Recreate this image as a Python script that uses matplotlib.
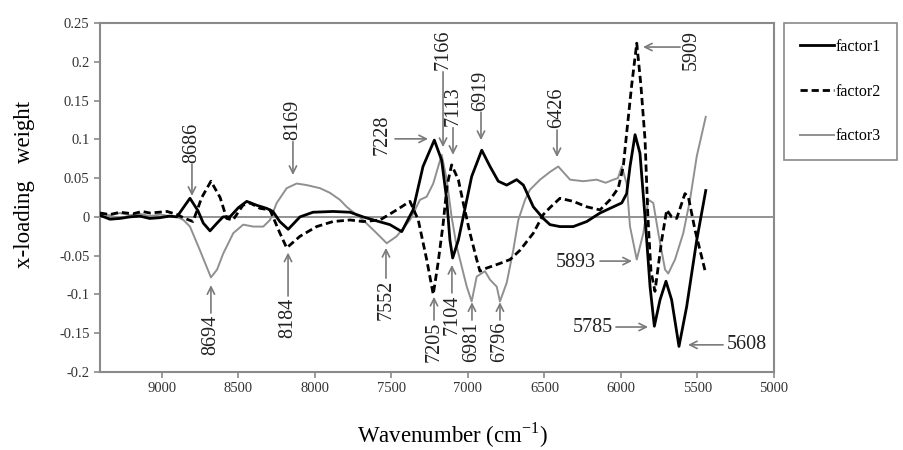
import matplotlib
matplotlib.use("Agg")
import matplotlib.pyplot as plt
from matplotlib.ticker import FuncFormatter
from matplotlib.lines import Line2D

plt.rcParams['font.family'] = ['Liberation Serif', 'DejaVu Serif']
plt.rcParams['axes.unicode_minus'] = False

# factor loadings (wavenumber, x-loading weight)
factor1_wn = [9405, 9340, 9275, 9210, 9144, 9080, 9013, 8950, 8902, 8860,
              8817, 8765, 8730, 8686, 8640, 8601, 8556, 8500, 8446, 8381,
              8316, 8275, 8230, 8175, 8098, 8013, 7882, 7771, 7686, 7600,
              7510, 7433, 7359, 7294, 7220, 7172, 7139, 7118, 7100, 7063,
              7031, 6976, 6910, 6856, 6802, 6747, 6682, 6638, 6573, 6508,
              6464, 6399, 6312, 6224, 6137, 6050, 5995, 5963, 5941, 5908,
              5876, 5843, 5810, 5782, 5745, 5706, 5669, 5621, 5571, 5505,
              5446]
factor1 = [0.002, -0.003, -0.002, 0.0, 0.001, -0.002, -0.001, 0.001, 0.0, 0.012,
           0.024, 0.008, -0.008, -0.018, -0.008, 0.0, 0.0, 0.012, 0.020, 0.015,
           0.011, 0.007, -0.006, -0.016, 0.0, 0.006, 0.007, 0.006, 0.0, -0.005,
           -0.010, -0.019, 0.009, 0.065, 0.099, 0.073, 0.022, -0.030, -0.053, -0.030,
           0.0, 0.052, 0.086, 0.065, 0.046, 0.041, 0.048, 0.041, 0.013, -0.002,
           -0.010, -0.0125, -0.0125, -0.006, 0.005, 0.013, 0.018, 0.030, 0.065, 0.106,
           0.082, 0.0, -0.090, -0.141, -0.107, -0.083, -0.107, -0.167, -0.116, -0.030,
           0.034]

factor2_wn = [9405, 9340, 9275, 9190, 9130, 9078, 9020, 8967, 8902, 8850,
              8797, 8740, 8680, 8620, 8577, 8536, 8471, 8425, 8359, 8294,
              8229, 8185, 8098, 7989, 7882, 7771, 7686, 7575, 7466, 7379,
              7325, 7270, 7227, 7196, 7163, 7137, 7107, 7063, 7031, 6987,
              6943, 6922, 6878, 6791, 6725, 6660, 6573, 6508, 6464, 6399,
              6312, 6224, 6137, 6072, 6018, 5985, 5963, 5930, 5897, 5870,
              5843, 5824, 5804, 5778, 5734, 5701, 5669, 5636, 5582, 5560,
              5516, 5446]
factor2 = [0.005, 0.003, 0.006, 0.004, 0.007, 0.005, 0.006, 0.007, 0.003, -0.002,
           -0.006, 0.025, 0.046, 0.025, -0.002, -0.004, 0.015, 0.018, 0.011, 0.009,
           -0.021, -0.040, -0.025, -0.0125, -0.006, -0.004, -0.006, -0.004, 0.009, 0.020,
           -0.004, -0.055, -0.100, -0.060, -0.010, 0.040, 0.067, 0.048, 0.018, -0.021,
           -0.055, -0.070, -0.066, -0.060, -0.055, -0.043, -0.021, 0.003, 0.012, 0.024,
           0.020, 0.013, 0.009, 0.022, 0.037, 0.065, 0.108, 0.170, 0.224, 0.170,
           0.100, 0.0, -0.070, -0.096, -0.030, 0.009, 0.0, -0.002, 0.030, 0.026,
           -0.017, -0.073]

factor3_wn = [9405, 9340, 9275, 9210, 9144, 9080, 9013, 8950, 8902, 8860,
              8817, 8752, 8680, 8640, 8599, 8534, 8469, 8403, 8338, 8294,
              8250, 8185, 8120, 8054, 7967, 7902, 7837, 7793, 7686, 7597,
              7531, 7466, 7379, 7314, 7270, 7227, 7172, 7139, 7107, 7074,
              7008, 6976, 6943, 6889, 6856, 6812, 6791, 6747, 6704, 6671,
              6627, 6595, 6529, 6464, 6410, 6333, 6246, 6159, 6100, 6050,
              6020, 5995, 5963, 5941, 5897, 5854, 5821, 5789, 5756, 5712,
              5691, 5647, 5593, 5549, 5505, 5446]
factor3 = [0.004, 0.002, 0.005, 0.002, 0.004, 0.001, 0.003, 0.001, 0.0, -0.004,
           -0.0125, -0.043, -0.078, -0.068, -0.047, -0.021, -0.010, -0.0125, -0.0125, -0.004,
           0.018, 0.037, 0.043, 0.041, 0.037, 0.031, 0.022, 0.013, -0.004, -0.021,
           -0.034, -0.025, -0.004, 0.022, 0.026, 0.043, 0.080, 0.048, 0.0, -0.038,
           -0.090, -0.109, -0.077, -0.070, -0.081, -0.090, -0.109, -0.085, -0.043, -0.004,
           0.022, 0.035, 0.048, 0.058, 0.065, 0.048, 0.046, 0.048, 0.044, 0.048,
           0.050, 0.065, 0.043, -0.0125, -0.055, -0.021, 0.022, 0.018, -0.021, -0.068,
           -0.073, -0.055, -0.021, 0.022, 0.078, 0.129]

# peak labels: text, arrow tip, arrow tail, text anchor, rotation, ha, va
notes = [
    ("8686", (8804, 0.027), (8804, 0.068), (8804, 0.070), 90, 'center', 'bottom'),
    ("8169", (8144, 0.054), (8144, 0.097), (8144, 0.099), 90, 'center', 'bottom'),
    ("7166", (7163, 0.090), (7163, 0.187), (7163, 0.189), 90, 'center', 'bottom'),
    ("7113", (7098, 0.080), (7098, 0.115), (7098, 0.117), 90, 'center', 'bottom'),
    ("6919", (6915, 0.099), (6915, 0.135), (6915, 0.137), 90, 'center', 'bottom'),
    ("6426", (6418, 0.077), (6418, 0.112), (6418, 0.114), 90, 'center', 'bottom'),
    ("8694", (8680, -0.088), (8680, -0.124), (8680, -0.126), 90, 'center', 'top'),
    ("8184", (8176, -0.046), (8176, -0.102), (8176, -0.104), 90, 'center', 'top'),
    ("7552", (7536, -0.040), (7536, -0.079), (7536, -0.081), 90, 'center', 'top'),
    ("7205", (7222, -0.103), (7222, -0.133), (7222, -0.135), 90, 'center', 'top'),
    ("7104", (7105, -0.062), (7105, -0.098), (7105, -0.100), 90, 'center', 'top'),
    ("6981", (6974, -0.110), (6974, -0.133), (6974, -0.135), 90, 'center', 'top'),
    ("6796", (6791, -0.110), (6791, -0.133), (6791, -0.135), 90, 'center', 'top'),
    ("7228", (7261, 0.1006), (7477, 0.1006), (7497, 0.106), 90, 'right', 'center'),
    ("5909", (5856, 0.219), (5614, 0.219), (5601, 0.215), 90, 'left', 'center'),
    ("5893", (5928, -0.057), (6137, -0.057), (6163, -0.059), 0, 'right', 'center'),
    ("5785", (5823, -0.142), (6033, -0.142), (6052, -0.142), 0, 'right', 'center'),
    ("5608", (5562, -0.165), (5333, -0.165), (5307, -0.165), 0, 'left', 'center'),
]

grey = '#8a8a8a'

fig = plt.figure(figsize=(9.04, 4.5), dpi=100)
ax = fig.add_axes([100/904, 1-372/450, 674/904, 349/450])

ax.axhline(0, color=grey, lw=1.3, zorder=1)
ax.plot(factor1_wn, factor1, color='black', lw=2.0, label='factor1', zorder=3,
        solid_joinstyle='round')
ax.plot(factor2_wn, factor2, color='black', lw=2.0, ls=(0, (2.6, 1.4)),
        label='factor2', zorder=3, dash_joinstyle='round')
ax.plot(factor3_wn, factor3, color='#909090', lw=1.4, label='factor3', zorder=2,
        solid_joinstyle='round')

for label, tip, tail, txt, rot, ha, va in notes:
    ax.annotate('', xy=tip, xytext=tail,
                arrowprops=dict(arrowstyle='->', color='#7a7a7a', lw=1.2,
                                shrinkA=0, shrinkB=0, mutation_scale=13))
    ax.text(txt[0], txt[1], label, rotation=rot, ha=ha, va=va,
            fontsize=14.5, color='#222222')

ax.set_xlim(9405, 5000)
ax.set_ylim(-0.2, 0.25)
ax.set_xticks([9000, 8500, 8000, 7500, 7000, 6500, 6000, 5500, 5000])
ax.set_yticks([-0.2, -0.15, -0.1, -0.05, 0, 0.05, 0.1, 0.15, 0.2, 0.25])
ax.yaxis.set_major_formatter(FuncFormatter(lambda v, p: '%g' % round(v, 2)))
ax.tick_params(labelsize=10.5, color=grey, length=4, width=1.2, labelcolor='#333333')
for s in ax.spines.values():
    s.set_color(grey)
    s.set_linewidth(1.5)

fig.text(25/904, 1-184/450, 'x-loading   weight', rotation=90,
         ha='center', va='center', fontsize=16.5)
fig.text(453/904, 1-435/450, 'Wavenumber (cm$^{\\mathregular{-1}}$)',
         ha='center', va='center', fontsize=16.5)

handles = [Line2D([], [], color='black', lw=2.0),
           Line2D([], [], color='black', lw=2.0, ls=(0, (2.6, 1.4))),
           Line2D([], [], color='#909090', lw=1.4)]
leg = ax.legend(handles, ['factor1', 'factor2', 'factor3'], loc='upper left',
                bbox_to_anchor=(784/904, 1-23/450), bbox_transform=fig.transFigure,
                fontsize=11.5, labelspacing=1.8, handlelength=2.1,
                handletextpad=0.15, borderpad=1.0, borderaxespad=0,
                fancybox=False, framealpha=1)
leg.get_frame().set_edgecolor(grey)
leg.get_frame().set_linewidth(1.2)

fig.savefig('out.png', dpi=100)
